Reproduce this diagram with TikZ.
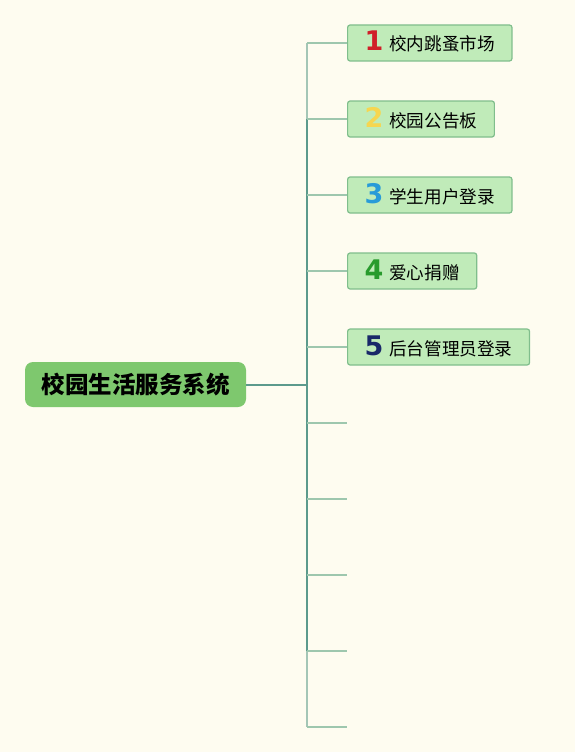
\documentclass[tikz,border=0pt]{standalone}
\usepackage{fontspec}
\setmainfont{Noto Sans CJK SC}
\newfontfamily\numfont{DejaVu Sans}
\usetikzlibrary{positioning}
\definecolor{bgcream}{RGB}{254,252,240}
\definecolor{rootgreen}{RGB}{126,200,110}
\definecolor{boxfill}{RGB}{192,235,185}
\definecolor{boxline}{RGB}{128,190,140}
\definecolor{trunkdark}{RGB}{92,154,140}
\definecolor{trunklight}{RGB}{164,198,182}
\definecolor{branchline}{RGB}{158,199,174}
\definecolor{numred}{RGB}{208,30,40}
\definecolor{numyellow}{RGB}{246,214,80}
\definecolor{numblue}{RGB}{40,155,216}
\definecolor{numgreen}{RGB}{40,155,45}
\definecolor{numnavy}{RGB}{25,40,105}
\tikzset{
  rootbox/.style={rectangle, fill=rootgreen, rounded corners=8pt,
    minimum width=221pt, minimum height=45pt, inner sep=0pt,
    font=\fontsize{23.5}{23.5}\selectfont\bfseries},
  topicbox/.style={rectangle, draw=boxline, fill=boxfill, rounded corners=2.5pt,
    line width=1.2pt, minimum height=36pt, text height=19pt, text depth=3pt,
    inner xsep=17pt, inner ysep=0pt,
    anchor=west, font=\fontsize{17.6}{17.6}\selectfont},
  trunk/.style={line width=2pt, color=trunkdark},
  paletrunk/.style={line width=2pt, color=trunklight},
  branch/.style={line width=1.6pt, color=branchline}
}
\newcommand{\topicnum}[2]{{\numfont\bfseries\fontsize{27}{27}\selectfont\color{#1}#2}\hspace{6pt}}

\begin{document}
\begin{tikzpicture}[x=1pt, y=-1pt]
  \fill[bgcream] (0,0) rectangle (575,752);
  \useasboundingbox (0,0) rectangle (575,752);

  % Nodes
  \node[rootbox] (root) at (135.5,384.5) {校园生活服务系统};
  \node[topicbox] (b1) at (347,43) {\topicnum{numred}{1}校内跳蚤市场};
  \node[topicbox, below=76pt of b1.west, anchor=west] (b2) {\topicnum{numyellow}{2}校园公告板};
  \node[topicbox, below=76pt of b2.west, anchor=west] (b3) {\topicnum{numblue}{3}学生用户登录};
  \node[topicbox, below=76pt of b3.west, anchor=west] (b4) {\topicnum{numgreen}{4}爱心捐赠};
  \node[topicbox, below=76pt of b4.west, anchor=west] (b5) {\topicnum{numnavy}{5}后台管理员登录};

  % Junctions on the trunk
  \foreach \i in {1,...,10}
    \coordinate (j\i) at (307,{43+76*(\i-1)});
  \coordinate (jroot) at (307,384.5);
  \foreach \i in {6,...,10}
    \coordinate (e\i) at (347,{43+76*(\i-1)});

  % Trunk
  \draw[paletrunk] (j1) -- (j2);
  \draw[trunk] (j2) -- (j9);
  \draw[paletrunk] (j9) -- (j10);

  % Branches
  \draw[trunk] (root.east) -- (jroot);
  \foreach \i in {1,...,5}
    \draw[branch] (j\i) -- (b\i.west);
  \foreach \i in {6,...,10}
    \draw[branch] (j\i) -- (e\i);

\end{tikzpicture}
\end{document}
